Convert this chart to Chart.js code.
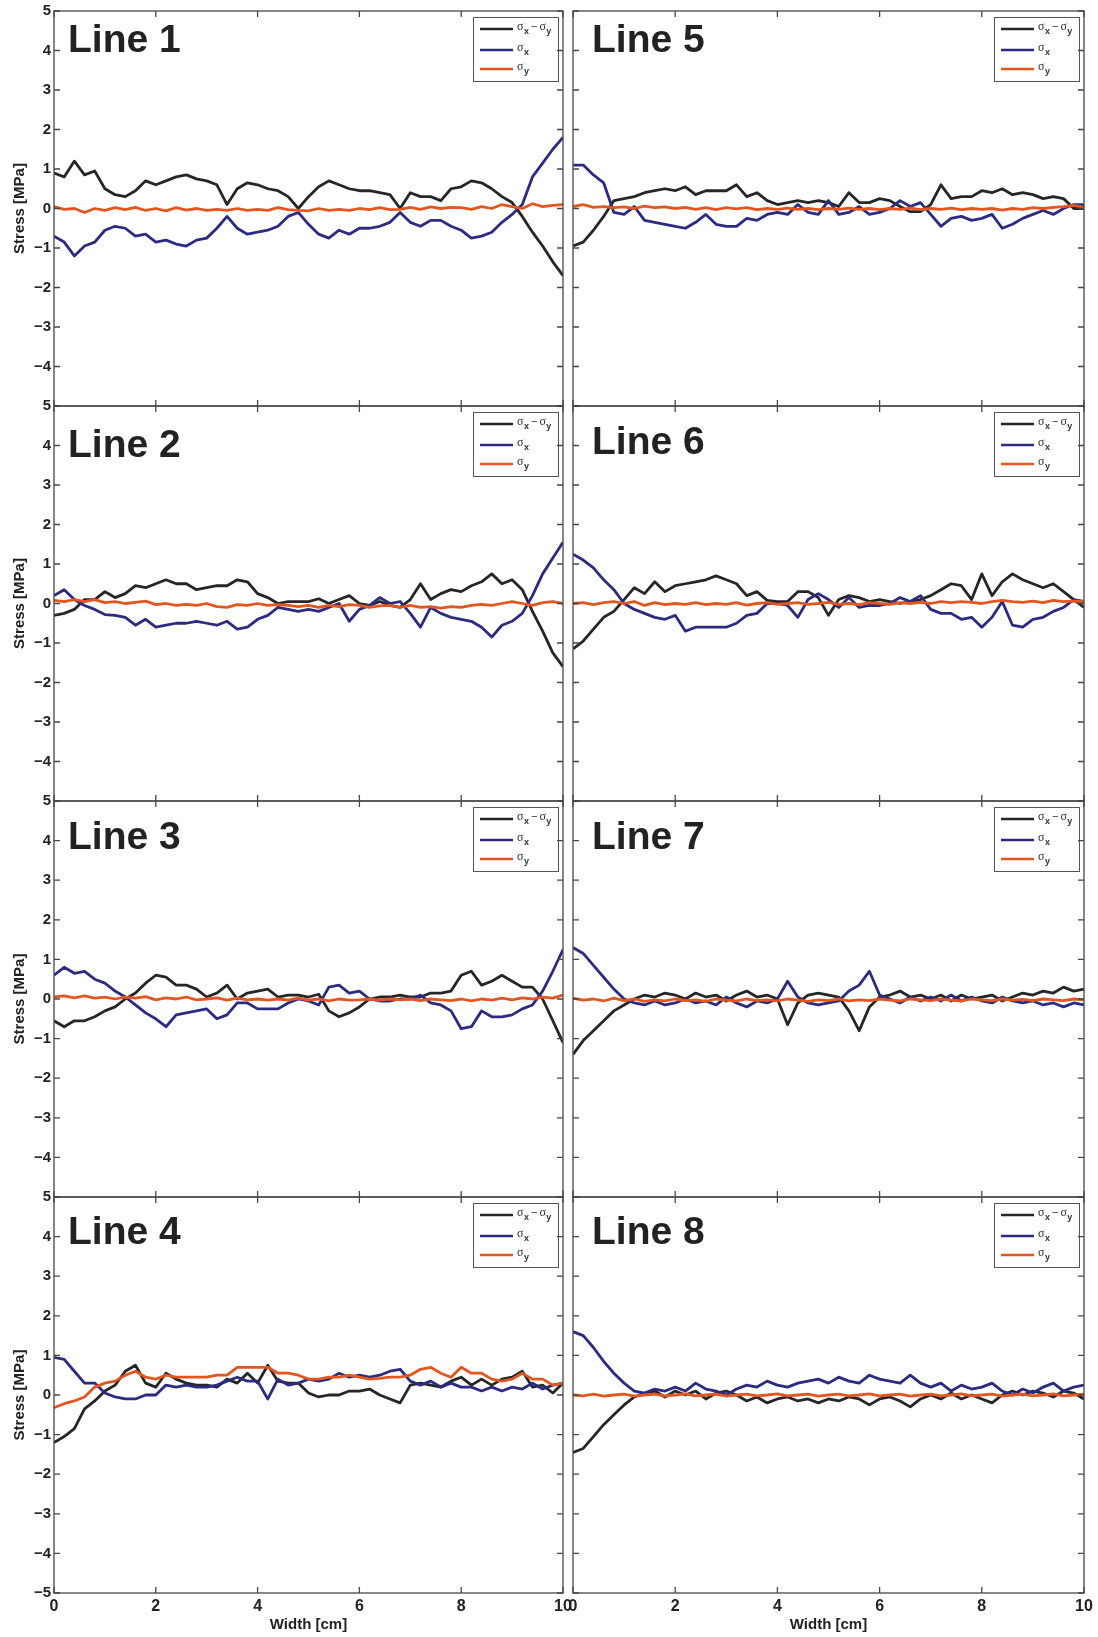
<!DOCTYPE html>
<html>
<head>
<meta charset="utf-8">
<script src="https://cdn.jsdelivr.net/npm/chart.js@4.4.1/dist/chart.umd.min.js"></script>
<style>
  body { margin: 0; background: #fff; width: 1098px; height: 1637px; position: relative; overflow: hidden; }
  canvas { position: absolute; }
</style>
</head>
<body>
<script>
// sample positions along the width, in cm
const widthCm = [0,0.2,0.4,0.6,0.8,1,1.2,1.4,1.6,1.8,2,2.2,2.4,2.6,2.8,3,3.2,3.4,3.6,3.8,4,4.2,4.4,4.6,4.8,5,5.2,5.4,5.6,5.8,6,6.2,6.4,6.6,6.8,7,7.2,7.4,7.6,7.8,8,8.2,8.4,8.6,8.8,9,9.2,9.4,9.6,9.8,10];

const xTickValues = [0, 2, 4, 6, 8, 10];
const yTickValues = [-5, -4, -3, -2, -1, 0, 1, 2, 3, 4, 5];
const lineNames = ['Line 1', 'Line 2', 'Line 3', 'Line 4', 'Line 5', 'Line 6', 'Line 7', 'Line 8'];

// stresses in MPa: difference (sx - sy), sx and sy for each scan line
const line1Diff = [0.9,0.8,1.2,0.85,0.95,0.5,0.35,0.3,0.45,0.7,0.6,0.7,0.8,0.85,0.75,0.7,0.6,0.1,0.5,0.65,0.6,0.5,0.45,0.3,0,0.3,0.55,0.7,0.6,0.5,0.45,0.45,0.4,0.35,0,0.4,0.3,0.3,0.2,0.5,0.55,0.7,0.65,0.5,0.3,0.15,-0.2,-0.6,-0.95,-1.35,-1.7];
const line1SigmaX = [-0.7,-0.85,-1.2,-0.95,-0.85,-0.55,-0.45,-0.5,-0.7,-0.65,-0.85,-0.8,-0.9,-0.95,-0.8,-0.75,-0.5,-0.2,-0.5,-0.65,-0.6,-0.55,-0.45,-0.2,-0.1,-0.4,-0.65,-0.75,-0.55,-0.65,-0.5,-0.5,-0.45,-0.35,-0.1,-0.35,-0.45,-0.3,-0.3,-0.45,-0.55,-0.75,-0.7,-0.6,-0.35,-0.15,0.1,0.8,1.15,1.5,1.8];
const line1SigmaY = [0.05,-0.02,0,-0.1,0,-0.05,0.02,-0.03,0.03,-0.05,0,-0.06,0.02,-0.04,0,-0.05,-0.02,-0.05,0,-0.05,-0.02,-0.05,0.02,-0.03,-0.05,-0.06,0,-0.05,-0.02,-0.05,0,-0.03,0.02,-0.03,-0.02,0.03,-0.02,0.04,0,0.03,0.02,-0.02,0.05,0,0.1,0.05,0,0.12,0.05,0.08,0.1];

const line2Diff = [-0.3,-0.25,-0.15,0.1,0.1,0.3,0.15,0.25,0.45,0.4,0.5,0.6,0.5,0.5,0.35,0.4,0.45,0.45,0.6,0.55,0.25,0.15,0,0.05,0.05,0.05,0.12,0,0.1,0.2,0,-0.05,0.05,-0.05,-0.1,0.1,0.5,0.1,0.25,0.35,0.3,0.45,0.55,0.75,0.5,0.6,0.35,-0.2,-0.7,-1.25,-1.6];
const line2SigmaX = [0.2,0.35,0.1,-0.05,-0.15,-0.28,-0.3,-0.35,-0.55,-0.4,-0.6,-0.55,-0.5,-0.5,-0.45,-0.5,-0.55,-0.45,-0.65,-0.6,-0.4,-0.3,-0.1,-0.15,-0.2,-0.15,-0.2,-0.1,0,-0.45,-0.15,-0.05,0.15,0,0.05,-0.25,-0.6,-0.1,-0.25,-0.35,-0.4,-0.45,-0.6,-0.85,-0.55,-0.45,-0.25,0.2,0.75,1.15,1.55];
const line2SigmaY = [0.08,0.05,0.1,0.05,0.1,0.02,0.05,0,0.03,0.06,-0.03,0,-0.05,-0.02,-0.05,0,-0.08,-0.1,-0.03,-0.05,0,-0.05,-0.03,-0.05,-0.08,-0.05,-0.1,-0.05,-0.08,-0.03,-0.05,-0.1,-0.06,-0.05,-0.1,-0.05,-0.1,-0.08,-0.12,-0.08,-0.1,-0.05,-0.02,-0.05,0,0.05,0,-0.05,0.02,0.05,0];

const line3Diff = [-0.55,-0.7,-0.55,-0.55,-0.45,-0.3,-0.2,0,0.15,0.4,0.6,0.55,0.35,0.35,0.25,0.05,0.15,0.35,0,0.15,0.2,0.25,0.05,0.1,0.1,0.05,0.12,-0.3,-0.45,-0.35,-0.2,0,0.05,0.05,0.1,0.05,0.05,0.15,0.15,0.2,0.6,0.7,0.35,0.45,0.6,0.45,0.3,0.3,0,-0.55,-1.1];
const line3SigmaX = [0.6,0.8,0.65,0.7,0.5,0.4,0.2,0.05,-0.15,-0.35,-0.5,-0.7,-0.4,-0.35,-0.3,-0.25,-0.5,-0.4,-0.1,-0.1,-0.25,-0.25,-0.25,-0.1,0,-0.05,-0.15,0.3,0.35,0.15,0.2,0,-0.05,-0.05,0,0,0.1,-0.1,-0.15,-0.3,-0.75,-0.7,-0.3,-0.45,-0.45,-0.4,-0.25,-0.15,0.2,0.7,1.25];
const line3SigmaY = [0.05,0.08,0.03,0.08,0.02,0.05,0,0.05,0.02,0.06,-0.02,0.03,0,0.05,-0.02,0,0.03,-0.03,0.02,-0.02,0,-0.03,0,-0.03,0.02,-0.03,0,-0.05,0,-0.03,-0.02,0,-0.03,0,-0.02,0,-0.04,0,-0.02,-0.04,0,-0.05,0,-0.03,0.02,-0.02,0.03,0,0.05,0.02,0.1];

const line4Diff = [-1.2,-1.05,-0.85,-0.35,-0.15,0.1,0.25,0.6,0.75,0.3,0.2,0.55,0.4,0.3,0.25,0.25,0.2,0.4,0.3,0.55,0.3,0.75,0.35,0.3,0.3,0.05,-0.05,0,0,0.1,0.1,0.15,0,-0.1,-0.2,0.25,0.3,0.25,0.2,0.35,0.45,0.25,0.4,0.25,0.4,0.45,0.6,0.2,0.25,0.05,0.3];
const line4SigmaX = [0.95,0.9,0.6,0.3,0.3,0.05,-0.05,-0.1,-0.1,0,0,0.25,0.2,0.25,0.2,0.2,0.25,0.35,0.45,0.35,0.35,-0.1,0.4,0.25,0.3,0.4,0.35,0.4,0.55,0.45,0.5,0.45,0.5,0.6,0.65,0.35,0.25,0.35,0.2,0.3,0.2,0.2,0.1,0.2,0.1,0.2,0.15,0.3,0.15,0.25,0.3];
const line4SigmaY = [-0.32,-0.22,-0.15,-0.05,0.2,0.3,0.35,0.5,0.6,0.45,0.4,0.5,0.45,0.45,0.45,0.45,0.5,0.5,0.7,0.7,0.7,0.7,0.55,0.55,0.5,0.4,0.4,0.45,0.45,0.5,0.45,0.4,0.42,0.45,0.45,0.5,0.65,0.7,0.55,0.45,0.7,0.55,0.55,0.4,0.35,0.4,0.55,0.4,0.4,0.25,0.3];

const line5Diff = [-0.95,-0.85,-0.55,-0.2,0.2,0.25,0.3,0.4,0.45,0.5,0.45,0.55,0.35,0.45,0.45,0.45,0.6,0.3,0.4,0.2,0.1,0.15,0.2,0.15,0.2,0.15,0.05,0.4,0.15,0.15,0.25,0.2,0.05,-0.08,-0.08,0.1,0.6,0.25,0.3,0.3,0.45,0.4,0.5,0.35,0.4,0.35,0.25,0.3,0.25,0,0];
const line5SigmaX = [1.1,1.1,0.85,0.65,-0.1,-0.15,0.05,-0.3,-0.35,-0.4,-0.45,-0.5,-0.35,-0.15,-0.4,-0.45,-0.45,-0.25,-0.3,-0.15,-0.1,-0.15,0.1,-0.1,-0.15,0.2,-0.15,-0.1,0.05,-0.15,-0.1,0,0.2,0.05,0.15,-0.15,-0.45,-0.25,-0.2,-0.3,-0.25,-0.15,-0.5,-0.4,-0.25,-0.15,-0.05,-0.15,0,0.1,0.1];
const line5SigmaY = [0.05,0.1,0.03,0.05,0.02,0.04,0,0.06,0.02,0.04,0,0.03,-0.02,0.02,-0.03,0.02,-0.01,0.02,-0.03,0,-0.02,0.01,-0.02,0,-0.03,0,-0.02,0.01,-0.02,0,-0.03,0,-0.02,0.01,-0.03,0,-0.02,0.01,-0.03,0,-0.02,0,-0.04,0,-0.02,0.02,0,0.03,0.05,0.08,0.03];

const line6Diff = [-1.15,-0.95,-0.65,-0.35,-0.2,0.1,0.4,0.25,0.55,0.3,0.45,0.5,0.55,0.6,0.7,0.6,0.5,0.2,0.3,0.08,0.05,0.05,0.3,0.3,0.15,-0.3,0.1,0.2,0.15,0.05,0.1,0.05,0,0.05,0.1,0.2,0.35,0.5,0.45,0.1,0.75,0.2,0.55,0.75,0.6,0.5,0.4,0.5,0.3,0.1,-0.1];
const line6SigmaX = [1.25,1.1,0.9,0.6,0.35,0,-0.15,-0.25,-0.35,-0.4,-0.3,-0.7,-0.6,-0.6,-0.6,-0.6,-0.5,-0.3,-0.25,0,0,-0.05,-0.35,0.1,0.25,0.1,-0.1,0.15,-0.1,-0.05,-0.05,0,0.15,0.05,0.2,-0.15,-0.25,-0.25,-0.4,-0.35,-0.6,-0.35,0.05,-0.55,-0.6,-0.4,-0.35,-0.2,-0.1,0.1,0.05];
const line6SigmaY = [0,0.02,-0.03,0.02,0.05,0,0.05,-0.05,0.02,-0.03,0,-0.02,0.02,-0.03,0,-0.02,0.02,-0.04,0,0.02,-0.02,0,0.02,-0.02,0,0.03,-0.02,0,-0.03,0.02,0,-0.02,0.02,0,0.03,0,0.05,0.02,0.05,0.03,0,0.05,0.08,0.05,0.03,0.06,0.02,0.08,0.05,0.06,0.05];

const line7Diff = [-1.4,-1.05,-0.8,-0.55,-0.3,-0.15,0,0.1,0.05,0.15,0.1,0,0.15,0.05,0.1,-0.05,0.1,0.2,0.05,0.1,0,-0.65,-0.1,0.1,0.15,0.1,0.05,-0.3,-0.8,-0.2,0.05,0.1,0.2,0.05,0.1,0,0.1,-0.05,0.1,0,0.05,0.1,-0.05,0.05,0.15,0.1,0.2,0.15,0.3,0.2,0.25];
const line7SigmaX = [1.3,1.15,0.85,0.55,0.25,0,-0.1,-0.15,-0.05,-0.15,-0.1,0,-0.1,-0.05,-0.15,0.05,-0.1,-0.2,-0.05,-0.1,0,0.45,0.05,-0.1,-0.15,-0.1,-0.05,0.2,0.35,0.7,0.1,0,-0.1,0.05,-0.05,0.05,-0.05,0.1,-0.05,0.05,-0.05,-0.1,0.05,-0.05,-0.1,-0.05,-0.15,-0.1,-0.2,-0.1,-0.15];
const line7SigmaY = [0.02,-0.03,0,-0.05,0.02,-0.04,0,-0.06,-0.02,-0.05,0,-0.04,-0.02,-0.06,0,-0.03,-0.05,0,-0.04,-0.02,-0.05,0,-0.03,-0.06,-0.02,-0.04,0,-0.05,-0.02,-0.04,0,-0.03,-0.05,0,-0.02,-0.04,0,-0.03,-0.05,0,-0.02,-0.04,0,-0.03,-0.01,-0.04,0,-0.02,-0.04,0,-0.02];

const line8Diff = [-1.45,-1.35,-1.05,-0.75,-0.5,-0.25,-0.05,0.05,0.1,-0.05,0.1,0,0.1,-0.1,0.05,0.1,0,-0.15,-0.05,-0.2,-0.1,-0.05,-0.15,-0.1,-0.2,-0.1,-0.15,-0.05,-0.1,-0.25,-0.1,-0.05,-0.15,-0.3,-0.1,0,-0.1,0.05,-0.1,0,-0.1,-0.2,0,0.1,0,0.1,0.05,-0.05,0.1,0.05,-0.1];
const line8SigmaX = [1.6,1.5,1.2,0.85,0.55,0.3,0.1,0.05,0.15,0.1,0.2,0.1,0.3,0.15,0.1,0,0.15,0.25,0.2,0.35,0.25,0.2,0.3,0.35,0.4,0.3,0.45,0.35,0.3,0.5,0.4,0.35,0.3,0.5,0.3,0.2,0.3,0.1,0.25,0.15,0.2,0.3,0.1,0,0.15,0.05,0.2,0.3,0.1,0.2,0.25];
const line8SigmaY = [0,-0.02,0.02,-0.03,0,0.02,-0.03,0,0.02,-0.02,0,0.03,-0.02,0,0.02,-0.03,0,0.02,-0.02,0,0.03,-0.02,0,0.02,-0.03,0,0.02,-0.02,0,0.03,-0.02,0,0.02,-0.03,0,0.02,-0.02,0,0.03,-0.02,0,0.02,-0.03,0,0.02,-0.02,0,0.03,-0.02,0,0.02];

const COLOR_DIFF = '#262626';
const COLOR_SX = '#2c2b82';
const COLOR_SY = '#e2561f';
const FONT = '"Liberation Sans", Arial, sans-serif';

// panel layout: columns and rows of plot boxes (page pixels)
const colLeft = [54, 573];
const colRight = [563, 1084];
const rowTop = [11, 406, 801, 1197];
const rowHeight = [395, 395, 396, 396];

const panels = [
  { diff: line1Diff, sx: line1SigmaX, sy: line1SigmaY, col: 0, row: 0, titleDy: 41 },
  { diff: line2Diff, sx: line2SigmaX, sy: line2SigmaY, col: 0, row: 1, titleDy: 51 },
  { diff: line3Diff, sx: line3SigmaX, sy: line3SigmaY, col: 0, row: 2, titleDy: 48 },
  { diff: line4Diff, sx: line4SigmaX, sy: line4SigmaY, col: 0, row: 3, titleDy: 47 },
  { diff: line5Diff, sx: line5SigmaX, sy: line5SigmaY, col: 1, row: 0, titleDy: 41 },
  { diff: line6Diff, sx: line6SigmaX, sy: line6SigmaY, col: 1, row: 1, titleDy: 48 },
  { diff: line7Diff, sx: line7SigmaX, sy: line7SigmaY, col: 1, row: 2, titleDy: 48 },
  { diff: line8Diff, sx: line8SigmaX, sy: line8SigmaY, col: 1, row: 3, titleDy: 47 }
];

// sigma with a subscript, returns the new x
function drawSigma(ctx, x, y, sub) {
  ctx.font = '12px "Liberation Serif", serif';
  ctx.fillText('\u03c3', x, y);
  x += ctx.measureText('\u03c3').width + 0.5;
  ctx.font = 'bold 9px ' + FONT;
  ctx.fillText(sub, x, y + 4);
  return x + ctx.measureText(sub).width;
}

const panelDecor = {
  id: 'panelDecor',
  afterDatasetsDraw(chart, args, opts) {
    const { ctx, chartArea: a, scales: { x, y } } = chart;
    ctx.save();

    // legend box
    const bw = 85, bh = 64;
    const bx = a.right - 5 - bw, by = a.top + 6;
    ctx.fillStyle = '#fff';
    ctx.fillRect(bx, by, bw, bh);
    ctx.strokeStyle = '#555';
    ctx.lineWidth = 1;
    ctx.strokeRect(bx + 0.5, by + 0.5, bw, bh);
    const rows = [[12, COLOR_DIFF, ['x', 'y']], [33, COLOR_SX, ['x']], [52, COLOR_SY, ['y']]];
    ctx.textBaseline = 'alphabetic';
    for (const [dy, color, subs] of rows) {
      ctx.strokeStyle = color;
      ctx.lineWidth = 2.4;
      ctx.beginPath();
      ctx.moveTo(bx + 7, by + dy);
      ctx.lineTo(bx + 40, by + dy);
      ctx.stroke();
      ctx.fillStyle = '#333';
      let tx = drawSigma(ctx, bx + 44, by + dy + 1, subs[0]);
      if (subs.length > 1) {
        ctx.font = '11px ' + FONT;
        ctx.fillText('\u2212', tx + 2, by + dy + 1);
        tx += ctx.measureText('\u2212').width + 4;
        drawSigma(ctx, tx, by + dy + 1, subs[1]);
      }
    }

    // axes box and inward ticks
    ctx.strokeStyle = '#474747';
    ctx.lineWidth = 1.3;
    ctx.strokeRect(a.left, a.top, a.right - a.left, a.bottom - a.top);
    ctx.beginPath();
    for (const v of yTickValues) {
      const py = y.getPixelForValue(v);
      ctx.moveTo(a.left, py); ctx.lineTo(a.left + 6, py);
      ctx.moveTo(a.right, py); ctx.lineTo(a.right - 6, py);
    }
    for (const v of xTickValues) {
      const px = x.getPixelForValue(v);
      ctx.moveTo(px, a.top); ctx.lineTo(px, a.top + 6);
      ctx.moveTo(px, a.bottom); ctx.lineTo(px, a.bottom - 6);
    }
    ctx.stroke();

    // panel title
    ctx.fillStyle = '#222';
    ctx.font = 'bold 39px ' + FONT;
    ctx.fillText(opts.title, a.left + opts.titleDx, a.top + opts.titleDy);
    ctx.restore();
  }
};

function tickText(v) {
  return v < 0 ? '\u2212' + Math.abs(v) : String(v);
}

panels.forEach((p, idx) => {
  const left = p.col === 0;
  const bottom = p.row === 3;
  const area = { l: colLeft[p.col], r: colRight[p.col], t: rowTop[p.row] };
  area.b = area.t + rowHeight[p.row];
  const cv = { x: left ? 0 : 563, y: area.t - 11 };
  cv.w = left ? 580 : 1098 - cv.x;
  cv.h = bottom ? 1637 - cv.y : (area.b + 11) - cv.y;

  const canvas = document.createElement('canvas');
  canvas.width = cv.w;
  canvas.height = cv.h;
  canvas.style.left = cv.x + 'px';
  canvas.style.top = cv.y + 'px';
  document.body.appendChild(canvas);

  const series = (vals) => widthCm.map((w, i) => ({ x: w, y: vals[i] }));
  const lineStyle = { pointRadius: 0, borderWidth: 2.8, tension: 0, borderJoinStyle: 'round', fill: false };

  new Chart(canvas, {
    type: 'line',
    data: {
      datasets: [
        Object.assign({ label: 'sx - sy', data: series(p.diff), borderColor: COLOR_DIFF, order: 3 }, lineStyle),
        Object.assign({ label: 'sx', data: series(p.sx), borderColor: COLOR_SX, order: 2 }, lineStyle),
        Object.assign({ label: 'sy', data: series(p.sy), borderColor: COLOR_SY, order: 1 }, lineStyle)
      ]
    },
    options: {
      responsive: false,
      animation: false,
      devicePixelRatio: 1,
      events: [],
      layout: {
        padding: {
          left: left ? 0 : area.l - cv.x,
          top: area.t - cv.y,
          right: cv.x + cv.w - area.r,
          bottom: bottom ? 0 : cv.y + cv.h - area.b
        }
      },
      plugins: {
        legend: { display: false },
        tooltip: { enabled: false },
        panelDecor: { title: lineNames[idx], titleDx: left ? 14 : 19, titleDy: p.titleDy }
      },
      scales: {
        x: {
          type: 'linear',
          min: 0, max: 10,
          display: bottom,
          grid: { display: false, drawTicks: false },
          border: { display: false },
          ticks: { stepSize: 2, padding: 4, color: '#222', maxRotation: 0, font: { family: FONT, size: 16, weight: 'bold' } },
          title: { display: true, text: 'Width [cm]', color: '#222', padding: { top: 0, bottom: 3 }, font: { family: FONT, size: 15, weight: 'bold' } },
          afterFit(s) {
            s.height = bottom ? cv.y + cv.h - area.b : 0;
            s.paddingLeft = 0; s.paddingRight = 0;
          }
        },
        y: {
          type: 'linear',
          min: -5, max: 5,
          display: left,
          grid: { display: false, drawTicks: false },
          border: { display: false },
          ticks: {
            stepSize: 1, padding: 3, color: '#222',
            font: { family: FONT, size: 15, weight: 'bold' },
            callback: (v) => (v === -5 && !bottom) ? '' : tickText(v)
          },
          title: { display: true, text: 'Stress [MPa]', color: '#222', padding: { top: 11, bottom: 0 }, font: { family: FONT, size: 15, weight: 'bold' } },
          afterFit(s) {
            s.width = left ? area.l - cv.x : 0;
            s.paddingTop = 0; s.paddingBottom = 0;
          }
        }
      }
    },
    plugins: [panelDecor]
  });
});
</script>
</body>
</html>
